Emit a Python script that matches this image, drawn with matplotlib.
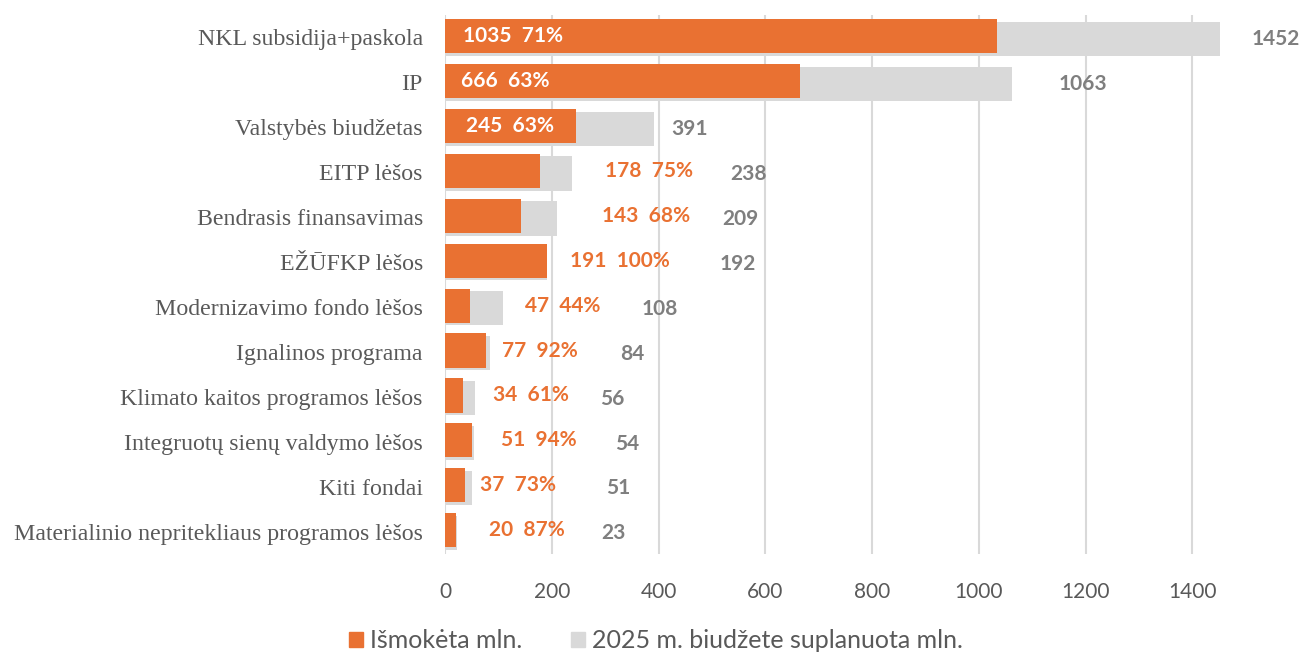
import matplotlib
matplotlib.use('Agg')
import matplotlib.pyplot as plt
from matplotlib.patches import Patch

categories = ['NKL subsidija+paskola', 'IP', 'Valstybės biudžetas', 'EITP lėšos',
              'Bendrasis finansavimas', 'EŽŪFKP lėšos', 'Modernizavimo fondo lėšos',
              'Ignalinos programa', 'Klimato kaitos programos lėšos',
              'Integruotų sienų valdymo lėšos', 'Kiti fondai',
              'Materialinio nepritekliaus programos lėšos']
paid = [1035, 666, 245, 178, 143, 191, 47, 77, 34, 51, 37, 20]
planned = [1452, 1063, 391, 238, 209, 192, 108, 84, 56, 54, 51, 23]
pct = [71, 63, 63, 75, 68, 100, 44, 92, 61, 94, 73, 87]

# label placement (left edge, in axis units) as the labels sit in the original
paid_lbl_x = [33, 30, 40, 300, 295, 235, 150, 107, 90, 105, 65, 82]
plan_lbl_x = [1512, 1149, 423, 534, 519, 514, 368, 329, 291, 319, 302, 293]
inside = [True, True, True] + [False] * 9

orange = '#E97132'
grey = '#D9D9D9'
txt = '#595959'

fig = plt.figure(figsize=(13, 6.55), dpi=100)
ax = fig.add_axes([445 / 1300, 101 / 655, 854 / 1300, 539 / 655])

y = list(range(len(categories)))
ax.barh([i + 0.03 for i in y], planned, height=0.76, color=grey, zorder=2)
ax.barh([i - 0.03 for i in y], paid, height=0.76, color=orange, zorder=3)

for i in y:
    if inside[i]:
        c = 'white'
    else:
        c = orange
    ax.text(paid_lbl_x[i], i - 0.03, f'{paid[i]}  {pct[i]}%', color=c, fontsize=15,
            fontweight='bold', family='Lato', va='center', ha='left', zorder=4)
    ax.text(plan_lbl_x[i], i + 0.04, f'{planned[i]}', color='#7F7F7F', fontsize=15,
            fontweight='bold', family='Lato', va='center', ha='left', zorder=4)

ax.set_ylim(11.5, -0.5)
ax.set_xlim(0, 1600)
ax.set_xticks(range(0, 1401, 200))
ax.set_yticks(y)
ax.set_yticklabels(categories, family='Liberation Serif', fontsize=17.2, color=txt)
ax.tick_params(axis='x', labelsize=15, labelcolor=txt, length=0, pad=20)
ax.tick_params(axis='y', length=0, pad=16)
for lbl in ax.get_xticklabels():
    lbl.set_family('Lato')
ax.grid(axis='x', color=grey, linewidth=1.5, zorder=0)
for s in ax.spines.values():
    s.set_visible(False)

handles = [Patch(color=orange, label='Išmokėta mln.'),
           Patch(color=grey, label='2025 m. biudžete suplanuota mln.')]
fig.legend(handles=handles, loc='center', bbox_to_anchor=(656 / 1300, 1 - 641 / 655),
           ncol=2, frameon=False, prop={'family': 'Lato', 'size': 18},
           labelcolor=txt, handlelength=0.55, handleheight=0.55, handletextpad=0.3,
           columnspacing=1.95)

fig.savefig('out.png', dpi=100)
